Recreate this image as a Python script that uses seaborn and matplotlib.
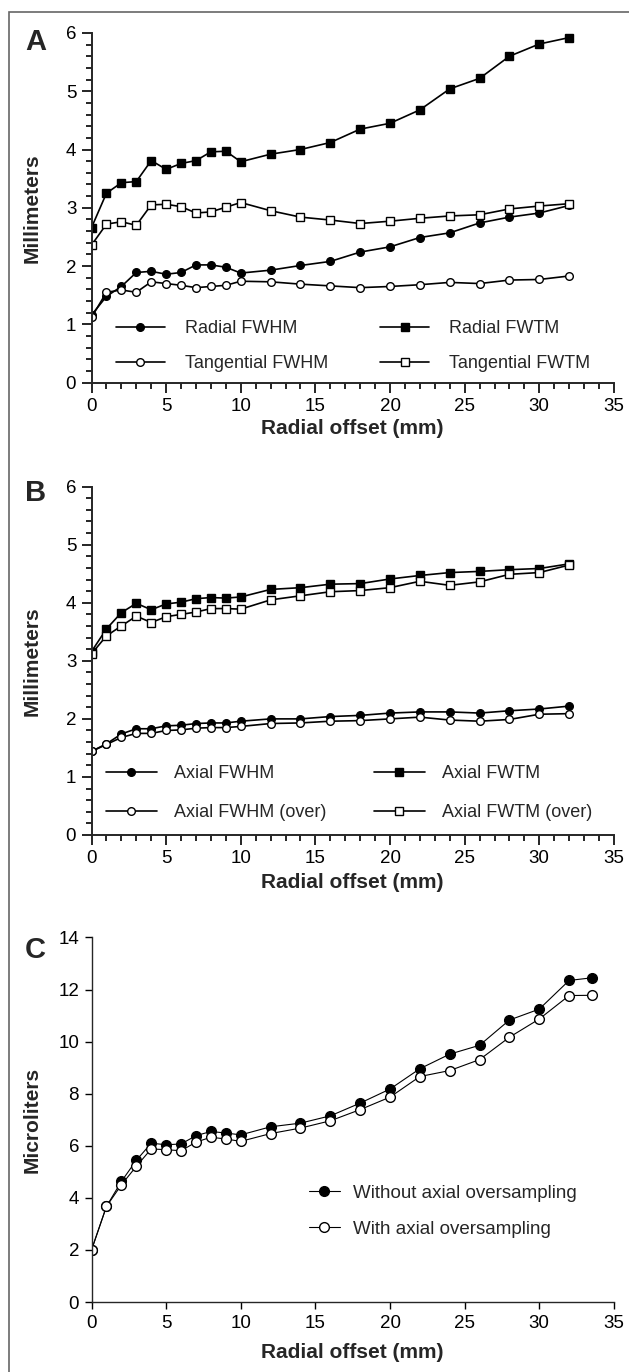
import numpy as np
import pandas as pd
import seaborn as sns
import matplotlib.pyplot as plt
from matplotlib.ticker import MultipleLocator
from matplotlib.patches import Rectangle

# radial offsets (mm)
x_ab = [0, 1, 2, 3, 4, 5, 6, 7, 8, 9, 10, 12, 14, 16, 18, 20, 22, 24, 26, 28, 30, 32]
x_c = [0, 1, 2, 3, 4, 5, 6, 7, 8, 9, 10, 12, 14, 16, 18, 20, 22, 24, 26, 28, 30, 32, 33.5]

# panel A
radial_fwhm = [1.16, 1.48, 1.65, 1.89, 1.91, 1.86, 1.89, 2.02, 2.02, 1.98, 1.88, 1.93,
               2.01, 2.08, 2.24, 2.33, 2.49, 2.57, 2.74, 2.84, 2.91, 3.04]
radial_fwtm = [2.66, 3.25, 3.43, 3.45, 3.81, 3.66, 3.76, 3.81, 3.96, 3.97, 3.79, 3.92,
               4.00, 4.12, 4.35, 4.45, 4.68, 5.04, 5.22, 5.60, 5.81, 5.92]
tang_fwhm = [1.12, 1.55, 1.59, 1.55, 1.73, 1.70, 1.67, 1.63, 1.65, 1.67, 1.74, 1.73,
             1.69, 1.66, 1.63, 1.65, 1.68, 1.72, 1.70, 1.76, 1.77, 1.83]
tang_fwtm = [2.36, 2.72, 2.76, 2.70, 3.05, 3.06, 3.02, 2.91, 2.93, 3.01, 3.09, 2.95,
             2.84, 2.79, 2.73, 2.77, 2.82, 2.86, 2.88, 2.98, 3.03, 3.07]

# panel B
axial_fwhm = [1.44, 1.57, 1.74, 1.83, 1.83, 1.88, 1.89, 1.92, 1.93, 1.93, 1.96, 2.00,
              2.00, 2.04, 2.06, 2.10, 2.12, 2.12, 2.10, 2.14, 2.17, 2.22]
axial_fwhm_over = [1.44, 1.56, 1.68, 1.75, 1.75, 1.80, 1.81, 1.84, 1.85, 1.85, 1.87, 1.92,
                   1.93, 1.96, 1.97, 2.00, 2.03, 1.98, 1.96, 1.99, 2.08, 2.09]
axial_fwtm = [3.16, 3.55, 3.83, 3.99, 3.88, 3.98, 4.01, 4.07, 4.09, 4.08, 4.10, 4.23,
              4.26, 4.32, 4.33, 4.41, 4.47, 4.52, 4.54, 4.57, 4.59, 4.67]
axial_fwtm_over = [3.12, 3.43, 3.60, 3.77, 3.66, 3.76, 3.80, 3.84, 3.90, 3.90, 3.89, 4.05,
                   4.12, 4.19, 4.21, 4.26, 4.37, 4.30, 4.36, 4.49, 4.52, 4.65]

# panel C
vol_without = [2.0, 3.67, 4.63, 5.44, 6.10, 6.04, 6.07, 6.39, 6.55, 6.49, 6.42, 6.73,
               6.87, 7.15, 7.64, 8.18, 8.96, 9.52, 9.86, 10.83, 11.25, 12.35, 12.45]
vol_with = [2.0, 3.67, 4.50, 5.21, 5.88, 5.85, 5.81, 6.14, 6.33, 6.26, 6.17, 6.47,
            6.68, 6.96, 7.39, 7.87, 8.66, 8.89, 9.31, 10.17, 10.87, 11.77, 11.78]

sns.set_style("ticks")
plt.rcParams['font.family'] = ['Liberation Sans', 'DejaVu Sans']
plt.rcParams['axes.linewidth'] = 1.4
plt.rcParams['xtick.color'] = 'black'
plt.rcParams['ytick.color'] = 'black'

fig = plt.figure(figsize=(6.29, 13.72), dpi=100)
ax_a = fig.add_axes([0.1455, 0.7211, 0.8305, 0.2549])
ax_b = fig.add_axes([0.1455, 0.3914, 0.8305, 0.2539])
ax_c = fig.add_axes([0.1455, 0.0510, 0.8305, 0.2657])


def draw(ax, x, y, marker, filled, label, ms, lw):
    sns.lineplot(x=x, y=y, ax=ax, color='black', lw=lw, marker=marker, markersize=ms,
                 markerfacecolor='black' if filled else 'white',
                 markeredgecolor='black', markeredgewidth=1.0, label=label)


draw(ax_a, x_ab, radial_fwhm, 'o', True, 'Radial FWHM', 5.5, 1.2)
draw(ax_a, x_ab, tang_fwhm, 'o', False, 'Tangential FWHM', 5.5, 1.2)
draw(ax_a, x_ab, radial_fwtm, 's', True, 'Radial FWTM', 6, 1.2)
draw(ax_a, x_ab, tang_fwtm, 's', False, 'Tangential FWTM', 6, 1.2)

draw(ax_b, x_ab, axial_fwhm, 'o', True, 'Axial FWHM', 5.5, 1.2)
draw(ax_b, x_ab, axial_fwhm_over, 'o', False, 'Axial FWHM (over)', 5.5, 1.2)
draw(ax_b, x_ab, axial_fwtm, 's', True, 'Axial FWTM', 6, 1.2)
draw(ax_b, x_ab, axial_fwtm_over, 's', False, 'Axial FWTM (over)', 6, 1.2)

draw(ax_c, x_c, vol_without, 'o', True, 'Without axial oversampling', 7, 0.8)
draw(ax_c, x_c, vol_with, 'o', False, 'With axial oversampling', 7, 0.8)

for ax in (ax_a, ax_b):
    ax.set_xlim(0, 35)
    ax.set_ylim(0, 6)
    ax.xaxis.set_major_locator(MultipleLocator(5))
    ax.xaxis.set_minor_locator(MultipleLocator(1))
    ax.yaxis.set_major_locator(MultipleLocator(1))
    ax.yaxis.set_minor_locator(MultipleLocator(0.2))
    ax.tick_params(which='major', length=7, width=1.2, labelsize=13.5, pad=4)
    ax.tick_params(which='minor', length=4, width=1.2)
    ax.set_ylabel('Millimeters', fontsize=15, fontweight='bold')

ax_c.set_xlim(0, 35)
ax_c.set_ylim(0, 14)
ax_c.xaxis.set_major_locator(MultipleLocator(5))
ax_c.yaxis.set_major_locator(MultipleLocator(2))
ax_c.tick_params(which='major', length=5, width=1.0, labelsize=13.5, pad=4)
ax_c.set_ylabel('Microliters', fontsize=15, fontweight='bold')
for sp in ax_c.spines.values():
    sp.set_linewidth(1.0)

for ax in (ax_a, ax_b, ax_c):
    sns.despine(ax=ax)
    ax.set_xlabel('Radial offset (mm)', fontsize=15, fontweight='bold')
    ax.yaxis.set_label_coords(-0.095, 0.5)

ax_a.xaxis.set_label_coords(0.5, -0.105)
ax_b.xaxis.set_label_coords(0.5, -0.11)
ax_c.xaxis.set_label_coords(0.5, -0.113)

leg_kw = dict(frameon=False, fontsize=13, loc='lower left', borderaxespad=0, borderpad=0)
ax_a.legend(ncol=2, handlelength=2.7, handletextpad=1.1, columnspacing=2.9,
            labelspacing=1.0, bbox_to_anchor=(0.047, 0.03), **leg_kw)
ax_b.legend(ncol=2, handlelength=2.8, handletextpad=0.95, columnspacing=2.65,
            labelspacing=1.2, bbox_to_anchor=(0.028, 0.04), **leg_kw)
leg_c = dict(leg_kw, fontsize=13.5)
ax_c.legend(ncol=1, handlelength=1.65, handletextpad=0.7,
            labelspacing=1.0, bbox_to_anchor=(0.416, 0.176), **leg_c)

for letter, ypix in (('A', 42), ('B', 493), ('C', 950)):
    fig.text(25 / 629, 1 - ypix / 1372, letter, fontsize=21, fontweight='bold',
             ha='left', va='center')

# grey frame around the figure (open at right and bottom edges)
fig.add_artist(Rectangle((9 / 629, -0.1), 1.2, 1.1 - 12 / 1372, transform=fig.transFigure,
                         fill=False, edgecolor='#666666', lw=1.2))

fig.savefig('out.png', dpi=100)
